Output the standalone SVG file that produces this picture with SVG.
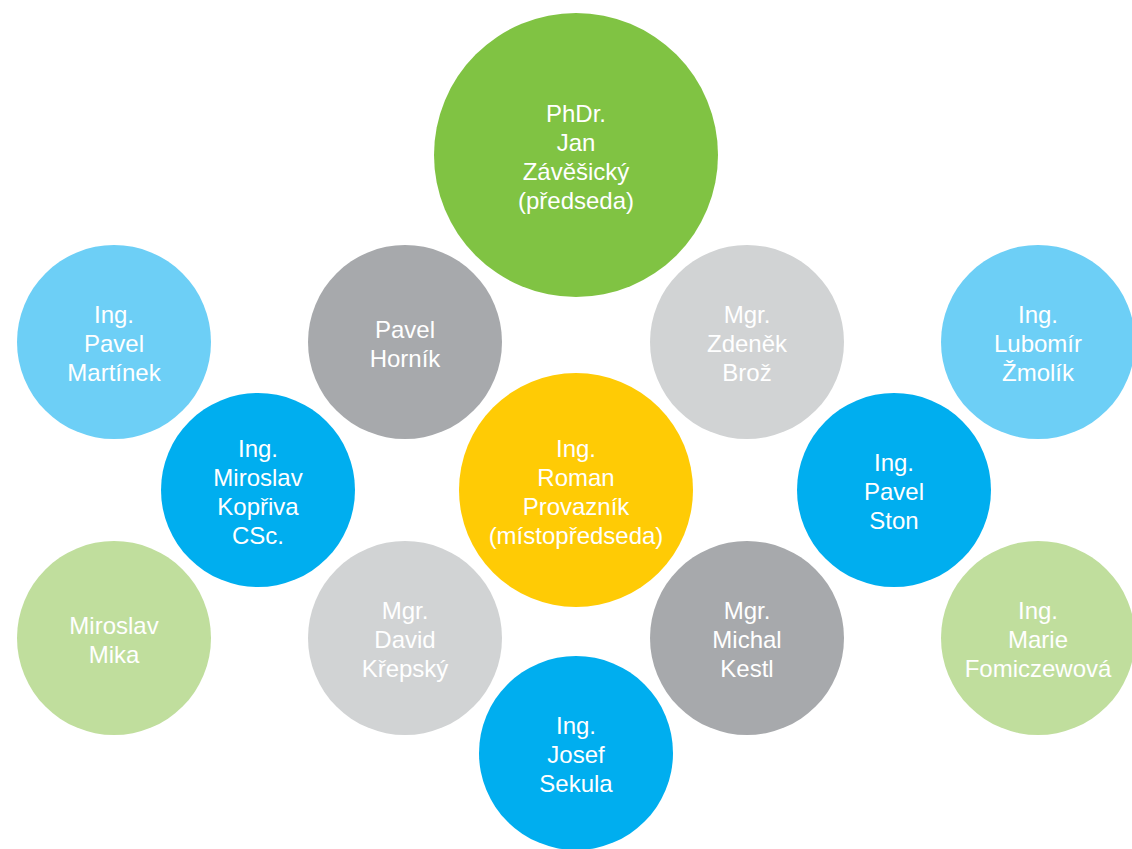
<svg xmlns="http://www.w3.org/2000/svg" width="1132" height="849" viewBox="0 0 1132 849">
<style>
text{font-family:"Liberation Sans",Arial,Helvetica,sans-serif;font-size:24px;fill:#ffffff;text-anchor:middle}
.green{fill:#80c343}
.yellow{fill:#ffcb05}
.lblue{fill:#6dcff6}
.blue{fill:#00aeef}
.dgrey{fill:#a7a9ac}
.lgrey{fill:#d1d3d4}
.lgreen{fill:#c0de9d}
</style>
<rect width="1132" height="849" fill="#ffffff"/>
<g id="connectors"/>
<g id="n-zavesicky">
<circle class="green" cx="576" cy="155" r="142"/>
<text x="576" y="121.5">PhDr.</text>
<text x="576" y="150.5">Jan</text>
<text x="576" y="179.5">Závěšický</text>
<text x="576" y="208.5">(předseda)</text>
</g>
<g id="n-hornik">
<circle class="dgrey" cx="405" cy="342" r="97"/>
<text x="405" y="337.5">Pavel</text>
<text x="405" y="366.5">Horník</text>
</g>
<g id="n-broz">
<circle class="lgrey" cx="747" cy="342" r="97"/>
<text x="747" y="323">Mgr.</text>
<text x="747" y="352">Zdeněk</text>
<text x="747" y="381">Brož</text>
</g>
<g id="n-martinek">
<circle class="lblue" cx="114" cy="342" r="97"/>
<text x="114" y="323">Ing.</text>
<text x="114" y="352">Pavel</text>
<text x="114" y="381">Martínek</text>
</g>
<g id="n-zmolik">
<circle class="lblue" cx="1038" cy="342" r="97"/>
<text x="1038" y="323">Ing.</text>
<text x="1038" y="352">Lubomír</text>
<text x="1038" y="381">Žmolík</text>
</g>
<g id="n-kopriva">
<circle class="blue" cx="258" cy="490" r="97"/>
<text x="258" y="456.5">Ing.</text>
<text x="258" y="485.5">Miroslav</text>
<text x="258" y="514.5">Kopřiva</text>
<text x="258" y="543.5">CSc.</text>
</g>
<g id="n-provaznik">
<circle class="yellow" cx="576" cy="490" r="117"/>
<text x="576" y="456.5">Ing.</text>
<text x="576" y="485.5">Roman</text>
<text x="576" y="514.5">Provazník</text>
<text x="576" y="543.5">(místopředseda)</text>
</g>
<g id="n-ston">
<circle class="blue" cx="894" cy="490" r="97"/>
<text x="894" y="471">Ing.</text>
<text x="894" y="500">Pavel</text>
<text x="894" y="529">Ston</text>
</g>
<g id="n-mika">
<circle class="lgreen" cx="114" cy="638" r="97"/>
<text x="114" y="633.5">Miroslav</text>
<text x="114" y="662.5">Mika</text>
</g>
<g id="n-krepsky">
<circle class="lgrey" cx="405" cy="638" r="97"/>
<text x="405" y="619">Mgr.</text>
<text x="405" y="648">David</text>
<text x="405" y="677">Křepský</text>
</g>
<g id="n-kestl">
<circle class="dgrey" cx="747" cy="638" r="97"/>
<text x="747" y="619">Mgr.</text>
<text x="747" y="648">Michal</text>
<text x="747" y="677">Kestl</text>
</g>
<g id="n-fomiczewova">
<circle class="lgreen" cx="1038" cy="638" r="97"/>
<text x="1038" y="619">Ing.</text>
<text x="1038" y="648">Marie</text>
<text x="1038" y="677">Fomiczewová</text>
</g>
<g id="n-sekula">
<circle class="blue" cx="576" cy="753" r="97"/>
<text x="576" y="734">Ing.</text>
<text x="576" y="763">Josef</text>
<text x="576" y="792">Sekula</text>
</g>
</svg>
